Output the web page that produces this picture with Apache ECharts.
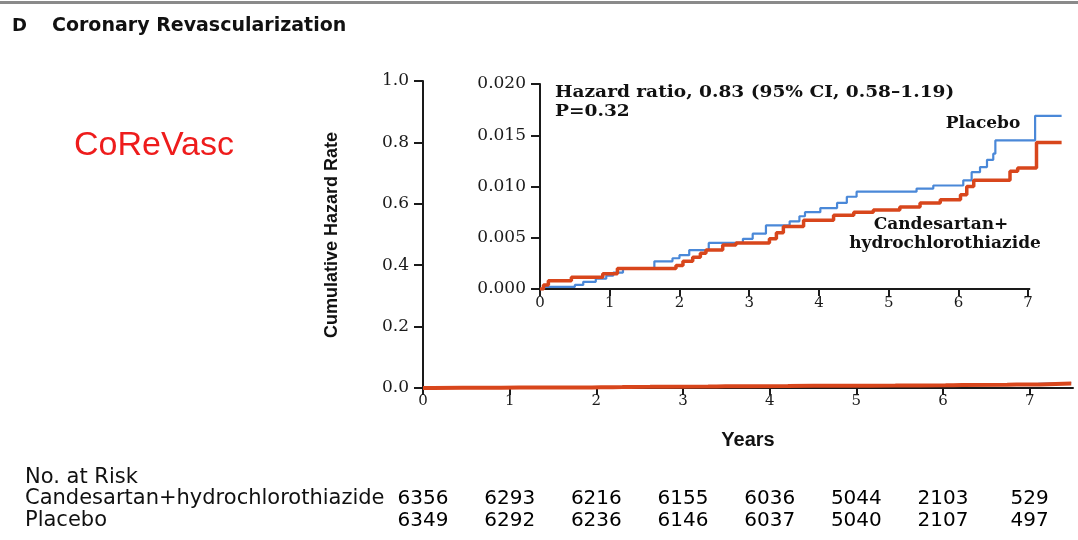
<!DOCTYPE html>
<html><head><meta charset="utf-8">
<script src="https://cdn.jsdelivr.net/npm/echarts@6/dist/echarts.min.js"></script>
<style>html,body{margin:0;padding:0;background:#fff}#c{width:1078px;height:540px}</style>
</head><body><div id="c"></div>
<script>
// ---- data ----
const yearTicks = [0, 1, 2, 3, 4, 5, 6, 7];
const mainYTicks = [0, 0.2, 0.4, 0.6, 0.8, 1.0];
const insetYTicks = [0, 0.005, 0.010, 0.015, 0.020];
const insetAxisEnd = 7.03;

const candTimes  = [0, 0.05, 0.12, 0.45, 0.9, 1.11, 1.95, 2.05, 2.19, 2.3, 2.38, 2.62, 2.81, 3.29, 3.39, 3.49, 3.78, 4.21, 4.5, 4.78, 5.16, 5.45, 5.74, 6.03, 6.12, 6.22, 6.74, 6.85, 7.12, 7.48];
const candValues = [0, 0.0004, 0.0008, 0.00114, 0.0015, 0.0020, 0.0023, 0.0027, 0.0031, 0.0035, 0.0038, 0.0043, 0.0045, 0.0049, 0.0055, 0.0061, 0.0067, 0.0072, 0.0075, 0.0077, 0.0080, 0.0084, 0.0087, 0.0092, 0.0100, 0.0106, 0.0115, 0.0118, 0.0143, 0.0143];

const placeboTimes  = [0, 0.05, 0.5, 0.62, 0.8, 0.95, 1.05, 1.19, 1.64, 1.9, 2.0, 2.14, 2.42, 2.91, 3.05, 3.24, 3.58, 3.72, 3.8, 4.02, 4.26, 4.4, 4.54, 5.4, 5.64, 6.07, 6.19, 6.31, 6.41, 6.5, 6.53, 7.1, 7.48];
const placeboValues = [0, 0.0002, 0.0004, 0.0007, 0.0010, 0.0013, 0.0016, 0.0020, 0.0027, 0.0030, 0.0033, 0.0038, 0.0045, 0.0049, 0.0054, 0.0062, 0.0066, 0.0071, 0.0075, 0.0079, 0.0084, 0.0090, 0.0095, 0.0098, 0.0101, 0.0106, 0.0114, 0.0119, 0.0126, 0.0132, 0.0145, 0.0169, 0.0169];

const riskRows = ['Candesartan+hydrochlorothiazide', 'Placebo'];
const riskCand = [6356, 6293, 6216, 6155, 6036, 5044, 2103, 529];
const riskPlacebo = [6349, 6292, 6236, 6146, 6037, 5040, 2107, 497];

// ---- build ----
const RED = '#d8461c', BLUE = '#4a88d8', AX = '#1a1a1a';
const pair = (ts, vs) => ts.map((t, i) => [t, vs[i]]);
const candData = pair(candTimes, candValues);
const placeboData = pair(placeboTimes, placeboValues);
const riskData = [];
riskCand.forEach((v, i) => riskData.push([yearTicks[i], 0, v]));
riskPlacebo.forEach((v, i) => riskData.push([yearTicks[i], 1, v]));

const tickFont = '"DejaVu Serif"';
const axisLineStyle = {lineStyle: {color: AX, width: 2}};
const txt = (o) => Object.assign({verticalAlign: 'middle', textVerticalAlign: 'middle', fill: '#111'}, o);

const chart = echarts.init(document.getElementById('c'));
chart.setOption({
  animation: false,
  backgroundColor: '#fff',
  grid: [
    {left: 423, top: 81, width: 650, height: 307},
    {left: 540, top: 84, width: 523, height: 205},
    {left: 423, top: 488, width: 650, height: 44}
  ],
  xAxis: [
    {gridIndex: 0, type: 'value', min: 0, max: 7.5, interval: 1,
     axisLine: axisLineStyle, splitLine: {show: false},
     axisTick: {show: true, length: 7, customValues: yearTicks, lineStyle: {color: AX, width: 2}},
     axisLabel: {customValues: yearTicks, margin: 6, fontFamily: tickFont, fontSize: 15, color: AX}},
    {gridIndex: 1, type: 'value', min: 0, max: 7.5, interval: 1,
     axisLine: {show: false}, splitLine: {show: false},
     axisTick: {show: true, length: 7, customValues: yearTicks, lineStyle: {color: AX, width: 2}},
     axisLabel: {customValues: yearTicks, margin: 7, fontFamily: tickFont, fontSize: 15, color: AX}},
    {gridIndex: 2, type: 'value', min: 0, max: 7.5, show: false}
  ],
  yAxis: [
    {gridIndex: 0, type: 'value', min: 0, max: 1, interval: 0.2,
     axisLine: {show: true, lineStyle: {color: AX, width: 2}}, splitLine: {show: false},
     axisTick: {show: true, length: 9, lineStyle: {color: AX, width: 2}},
     axisLabel: {margin: 14, fontFamily: tickFont, fontSize: 17, color: AX, formatter: v => v.toFixed(1)}},
    {gridIndex: 1, type: 'value', min: 0, max: 0.02, interval: 0.005,
     axisLine: {show: true, lineStyle: {color: AX, width: 2}}, splitLine: {show: false},
     axisTick: {show: true, length: 9, lineStyle: {color: AX, width: 2}},
     axisLabel: {margin: 14, fontFamily: tickFont, fontSize: 17, color: AX, formatter: v => v.toFixed(3)}},
    {gridIndex: 2, type: 'category', data: riskRows, inverse: true,
     axisLine: {show: false}, axisTick: {show: false},
     axisLabel: {interval: 0, align: 'left', margin: 398, fontFamily: '"DejaVu Sans"', fontSize: 21, color: '#111'}}
  ],
  series: [
    {type: 'line', xAxisIndex: 0, yAxisIndex: 0, data: placeboData, step: 'end', symbol: 'none',
     lineStyle: {color: BLUE, width: 1.5}, z: 3},
    {type: 'line', xAxisIndex: 0, yAxisIndex: 0, data: candData, step: 'end', symbol: 'none',
     lineStyle: {color: RED, width: 4}, z: 4},
    {type: 'line', xAxisIndex: 1, yAxisIndex: 1, data: placeboData, step: 'end', symbol: 'none',
     lineStyle: {color: BLUE, width: 2.2}, z: 5,
     markLine: {silent: true, symbol: 'none', label: {show: false}, z: 4,
                lineStyle: {color: AX, width: 2, type: 'solid'},
                data: [[{coord: [0, 0]}, {coord: [insetAxisEnd, 0]}]]}},
    {type: 'line', xAxisIndex: 1, yAxisIndex: 1, data: candData, step: 'end', symbol: 'none',
     lineStyle: {color: RED, width: 3.5}, z: 6},
    {type: 'scatter', xAxisIndex: 2, yAxisIndex: 2, data: riskData, symbolSize: 0,
     itemStyle: {color: 'rgba(0,0,0,0)'},
     label: {show: true, position: 'inside', formatter: p => String(p.value[2]),
             fontFamily: '"DejaVu Sans"', fontSize: 20, color: '#000', opacity: 1}}
  ],
  graphic: [
    {type: 'line', shape: {x1: 0, y1: 2.5, x2: 1078, y2: 2.5}, style: {stroke: '#8a8a8a', lineWidth: 3}},
    {type: 'text', x: 12, y: 26, style: txt({text: 'D', font: 'bold 18px "DejaVu Sans"'})},
    {type: 'text', x: 52, y: 26, style: txt({text: 'Coronary Revascularization', font: 'bold 19px "DejaVu Sans"'})},
    {type: 'text', x: 74, y: 146, style: txt({text: 'CoReVasc', font: '34px "Liberation Sans"', fill: '#ee1c1c'})},
    {type: 'text', x: 332, y: 235, rotation: Math.PI / 2, style: txt({text: 'Cumulative Hazard Rate', font: 'bold 18px "Liberation Sans"', align: 'center', textAlign: 'center'})},
    {type: 'text', x: 748, y: 440, style: txt({text: 'Years', font: 'bold 20px "Liberation Sans"', align: 'center', textAlign: 'center'})},
    {type: 'text', x: 555, y: 93, scaleX: 1.16, style: txt({text: 'Hazard ratio, 0.83 (95% CI, 0.58\u20131.19)', font: 'bold 16px "DejaVu Serif"'})},
    {type: 'text', x: 555, y: 112, scaleX: 1.16, style: txt({text: 'P=0.32', font: 'bold 16px "DejaVu Serif"'})},
    {type: 'text', x: 983, y: 124, style: txt({text: 'Placebo', font: 'bold 17px "DejaVu Serif"', align: 'center', textAlign: 'center'})},
    {type: 'text', x: 941, y: 225, style: txt({text: 'Candesartan+', font: 'bold 17px "DejaVu Serif"', align: 'center', textAlign: 'center'})},
    {type: 'text', x: 945, y: 244, style: txt({text: 'hydrochlorothiazide', font: 'bold 17px "DejaVu Serif"', align: 'center', textAlign: 'center'})},
    {type: 'text', x: 25, y: 478, style: txt({text: 'No. at Risk', font: '21px "DejaVu Sans"'})}
  ]
});
</script>
</body></html>
